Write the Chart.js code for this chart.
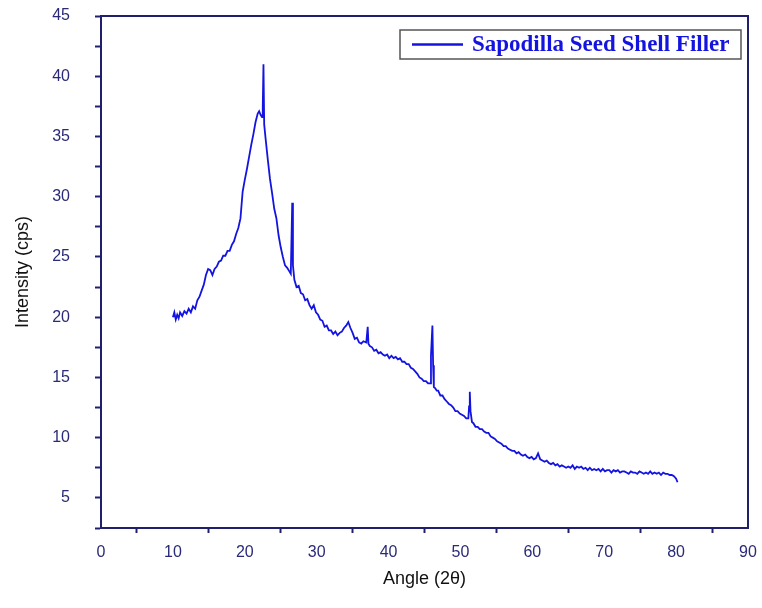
<!DOCTYPE html>
<html>
<head>
<meta charset="utf-8">
<script src="https://cdn.jsdelivr.net/npm/chart.js@4.4.1/dist/chart.umd.min.js"></script>
<style>
  html, body { margin: 0; padding: 0; background: #fff; }
  #wrap { width: 762px; height: 608px; }
</style>
</head>
<body>
<div id="wrap"><canvas id="myCanvas" width="762" height="608"></canvas></div>
<script>
// XRD pattern
const seriesLabel = 'Sapodilla Seed Shell Filler';
const angle = [
  10.0, 10.2, 10.4, 10.6, 10.8, 11.0, 11.3, 11.6, 11.9, 12.2, 12.5, 12.8, 13.1, 13.4, 13.7,
  14.0, 14.3, 14.6, 14.9, 15.2, 15.5, 15.8, 16.1, 16.4, 16.7, 17.0, 17.3, 17.6, 17.9, 18.2,
  18.5, 18.8, 19.1, 19.4, 19.7, 20.0, 20.3, 20.6, 20.9, 21.2, 21.5, 21.8, 22.0, 22.2, 22.4,
  22.5, 22.6, 22.7, 22.9, 23.2, 23.5, 23.8, 24.1, 24.4, 24.7, 25.0, 25.3, 25.6, 25.9, 26.2,
  26.4, 26.5, 26.6, 26.7, 26.9, 27.2, 27.5, 27.8, 28.1, 28.4, 28.7, 29.0, 29.3, 29.6, 29.9,
  30.2, 30.5, 30.8, 31.1, 31.4, 31.7, 32.0, 32.3, 32.6, 32.9, 33.2, 33.5, 33.8, 34.1, 34.4,
  34.7, 35.0, 35.3, 35.6, 35.9, 36.2, 36.5, 36.9, 37.1, 37.2, 37.4, 37.7, 38.0, 38.3, 38.6,
  38.9, 39.2, 39.5, 39.8, 40.1, 40.4, 40.7, 41.0, 41.3, 41.6, 41.9, 42.2, 42.5, 42.8, 43.1,
  43.4, 43.7, 44.0, 44.3, 44.6, 44.9, 45.2, 45.5, 45.8, 45.9, 46.1, 46.2, 46.3, 46.5, 46.7,
  46.9, 47.2, 47.5, 47.8, 48.1, 48.4, 48.7, 49.0, 49.3, 49.6, 49.9, 50.2, 50.5, 50.8, 51.1,
  51.2, 51.3, 51.4, 51.6, 51.8, 52.1, 52.4, 52.7, 53.0, 53.3, 53.6, 53.9, 54.2, 54.5, 54.8,
  55.1, 55.4, 55.7, 56.0, 56.3, 56.6, 56.9, 57.2, 57.5, 57.8, 58.1, 58.4, 58.7, 59.0, 59.3,
  59.6, 59.9, 60.2, 60.5, 60.8, 61.1, 61.4, 61.7, 62.0, 62.3, 62.6, 62.9, 63.2, 63.5, 63.8,
  64.1, 64.4, 64.7, 65.0, 65.3, 65.6, 65.9, 66.2, 66.5, 66.8, 67.1, 67.4, 67.7, 68.0, 68.3,
  68.6, 68.9, 69.2, 69.5, 69.8, 70.1, 70.4, 70.7, 71.0, 71.3, 71.6, 71.9, 72.2, 72.5, 72.8,
  73.1, 73.4, 73.7, 74.0, 74.3, 74.6, 74.9, 75.2, 75.5, 75.8, 76.1, 76.4, 76.7, 77.0, 77.3,
  77.6, 77.9, 78.2, 78.5, 78.8, 79.1, 79.4, 79.7, 80.0, 80.2
];
const intensity = [
  20.0, 20.4, 19.8, 20.2, 19.9, 20.4, 20.1, 20.5, 20.3, 20.7, 20.4, 20.9, 20.7, 21.4, 21.7,
  22.2, 22.7, 23.5, 24.0, 23.9, 23.5, 24.0, 24.2, 24.6, 24.7, 25.1, 25.1, 25.5, 25.5, 26.0,
  26.3, 26.9, 27.4, 28.2, 30.4, 31.4, 32.3, 33.3, 34.3, 35.2, 36.2, 36.9, 37.1, 36.8, 36.6,
  37.4, 41.0, 36.0, 34.8, 33.1, 31.5, 30.3, 29.0, 28.2, 26.8, 25.8, 25.0, 24.3, 24.1, 23.8,
  23.6, 26.5, 29.5, 24.3, 23.1, 22.5, 22.6, 22.0, 21.9, 21.4, 21.5, 21.0, 20.7, 21.0, 20.4,
  20.2, 19.8, 19.7, 19.2, 19.3, 18.9, 18.9, 18.6, 18.8, 18.5, 18.7, 18.8, 19.1, 19.3, 19.6,
  19.1, 18.7, 18.2, 18.3, 17.9, 17.8, 18.0, 17.9, 19.2, 17.8, 17.6, 17.5, 17.2, 17.3, 17.0,
  17.1, 16.9, 16.8, 16.9, 16.6, 16.8, 16.6, 16.7, 16.5, 16.6, 16.3, 16.3, 16.1, 16.1, 15.8,
  15.7, 15.5, 15.3, 15.0, 14.9, 14.7, 14.7, 14.5, 14.5, 16.8, 19.3, 16.0, 14.2, 14.1, 13.9,
  13.9, 13.5, 13.5, 13.2, 13.0, 12.8, 12.7, 12.5, 12.2, 12.2, 12.0, 11.9, 11.8, 11.6, 11.6,
  12.6, 13.8, 12.2, 11.3, 11.2, 10.9, 10.9, 10.7, 10.7, 10.5, 10.4, 10.4, 10.1, 10.0, 9.9,
  9.7, 9.6, 9.5, 9.3, 9.3, 9.1, 9.0, 8.9, 8.9, 8.7, 8.8, 8.6, 8.5, 8.6, 8.4,
  8.3, 8.4, 8.2, 8.3, 8.7, 8.2, 8.1, 8.0, 8.1, 7.9, 7.8, 7.9, 7.7, 7.8, 7.6,
  7.7, 7.6, 7.5, 7.6, 7.5, 7.7, 7.4, 7.6, 7.5, 7.6, 7.4, 7.5, 7.3, 7.5, 7.3,
  7.4, 7.3, 7.4, 7.2, 7.4, 7.2, 7.3, 7.3, 7.1, 7.3, 7.2, 7.3, 7.1, 7.2, 7.2,
  7.1, 7.0, 7.2, 7.1, 7.1, 7.0, 7.2, 7.1, 7.0, 7.1, 7.0, 7.2, 7.0, 7.1, 7.0,
  7.1, 6.9, 7.1, 7.0, 7.0, 6.9, 6.9, 6.8, 6.6, 6.3
];
const xTickLabels = [0, 10, 20, 30, 40, 50, 60, 70, 80, 90];
const yTickLabels = [5, 10, 15, 20, 25, 30, 35, 40, 45];

const navy = '#1f1f6e';
const tickText = '#2a2a78';
const lineBlue = '#1414e0';

// top and right frame lines, and the boxed legend in the top right corner
const framePlugin = {
  id: 'frame',
  afterDraw(chart) {
    const c = chart.ctx, a = chart.chartArea;
    c.save();
    c.strokeStyle = navy;
    c.lineWidth = 2;
    c.beginPath();
    c.moveTo(a.left - 1, a.top);
    c.lineTo(a.right, a.top);
    c.lineTo(a.right, a.bottom + 1);
    c.stroke();

    const ds = chart.data.datasets[0];
    const bx = a.right - 348, by = a.top + 14, bw = 341, bh = 29;
    c.strokeStyle = '#555';
    c.lineWidth = 1.5;
    c.strokeRect(bx, by, bw, bh);
    c.strokeStyle = ds.borderColor;
    c.lineWidth = 2.5;
    c.beginPath();
    c.moveTo(bx + 12, by + bh / 2);
    c.lineTo(bx + 63, by + bh / 2);
    c.stroke();
    c.fillStyle = ds.borderColor;
    c.font = 'bold 23px "Liberation Serif"';
    c.textBaseline = 'middle';
    c.textAlign = 'left';
    c.fillText(ds.label, bx + 72, by + bh / 2 + 1);
    c.restore();
  }
};

document.addEventListener('DOMContentLoaded', () => {
  const ctx = document.getElementById('myCanvas').getContext('2d');

  const points = angle.map((a, i) => ({ x: a, y: intensity[i] }));

  const config = {
    type: 'line',
    data: {
      datasets: [{
        label: seriesLabel,
        data: points,
        borderColor: lineBlue,
        backgroundColor: lineBlue,
        borderWidth: 1.8,
        pointRadius: 0,
        fill: false,
        tension: 0
      }]
    },
    options: {
      responsive: false,
      animation: false,
      layout: { padding: { top: 16, right: 14, left: 0, bottom: 0 } },
      plugins: {
        tooltip: { enabled: false },
        legend: { display: false }
      },
      scales: {
        x: {
          type: 'linear',
          min: 0,
          max: 90,
          afterFit: (s) => { s.height = 80; s.paddingLeft = 0; s.paddingRight = 0; },
          border: { color: navy, width: 2 },
          grid: {
            drawOnChartArea: false,
            drawTicks: true,
            tickLength: 5,
            tickWidth: 2,
            color: (c) => (c.tick && c.tick.value % 10 !== 0 ? navy : 'rgba(0,0,0,0)')
          },
          ticks: {
            stepSize: 5,
            autoSkip: false,
            maxRotation: 0,
            padding: 10,
            color: tickText,
            font: { family: 'Liberation Sans', size: 16 },
            callback: (v) => (xTickLabels.includes(v) ? String(v) : '')
          },
          title: {
            display: true,
            text: 'Angle (2θ)',
            color: '#111',
            font: { family: 'Liberation Sans', size: 18 },
            padding: { top: 0, bottom: 18 }
          }
        },
        y: {
          type: 'linear',
          min: 2.5,
          max: 45,
          afterFit: (s) => { s.width = 101; s.paddingTop = 0; s.paddingBottom = 0; },
          border: { color: navy, width: 2 },
          grid: {
            drawOnChartArea: false,
            drawTicks: true,
            tickLength: 6,
            tickWidth: 2,
            color: navy
          },
          ticks: {
            stepSize: 2.5,
            autoSkip: false,
            padding: 25,
            color: tickText,
            font: { family: 'Liberation Sans', size: 16 },
            callback: (v) => (yTickLabels.includes(v) ? String(v) : '')
          },
          title: {
            display: true,
            text: 'Intensity (cps)',
            color: '#111',
            font: { family: 'Liberation Sans', size: 18 },
            padding: { top: 12, bottom: 0 }
          }
        }
      }
    },
    plugins: [framePlugin]
  };

  const myChart = new Chart(ctx, config);
});
</script>
</body>
</html>
